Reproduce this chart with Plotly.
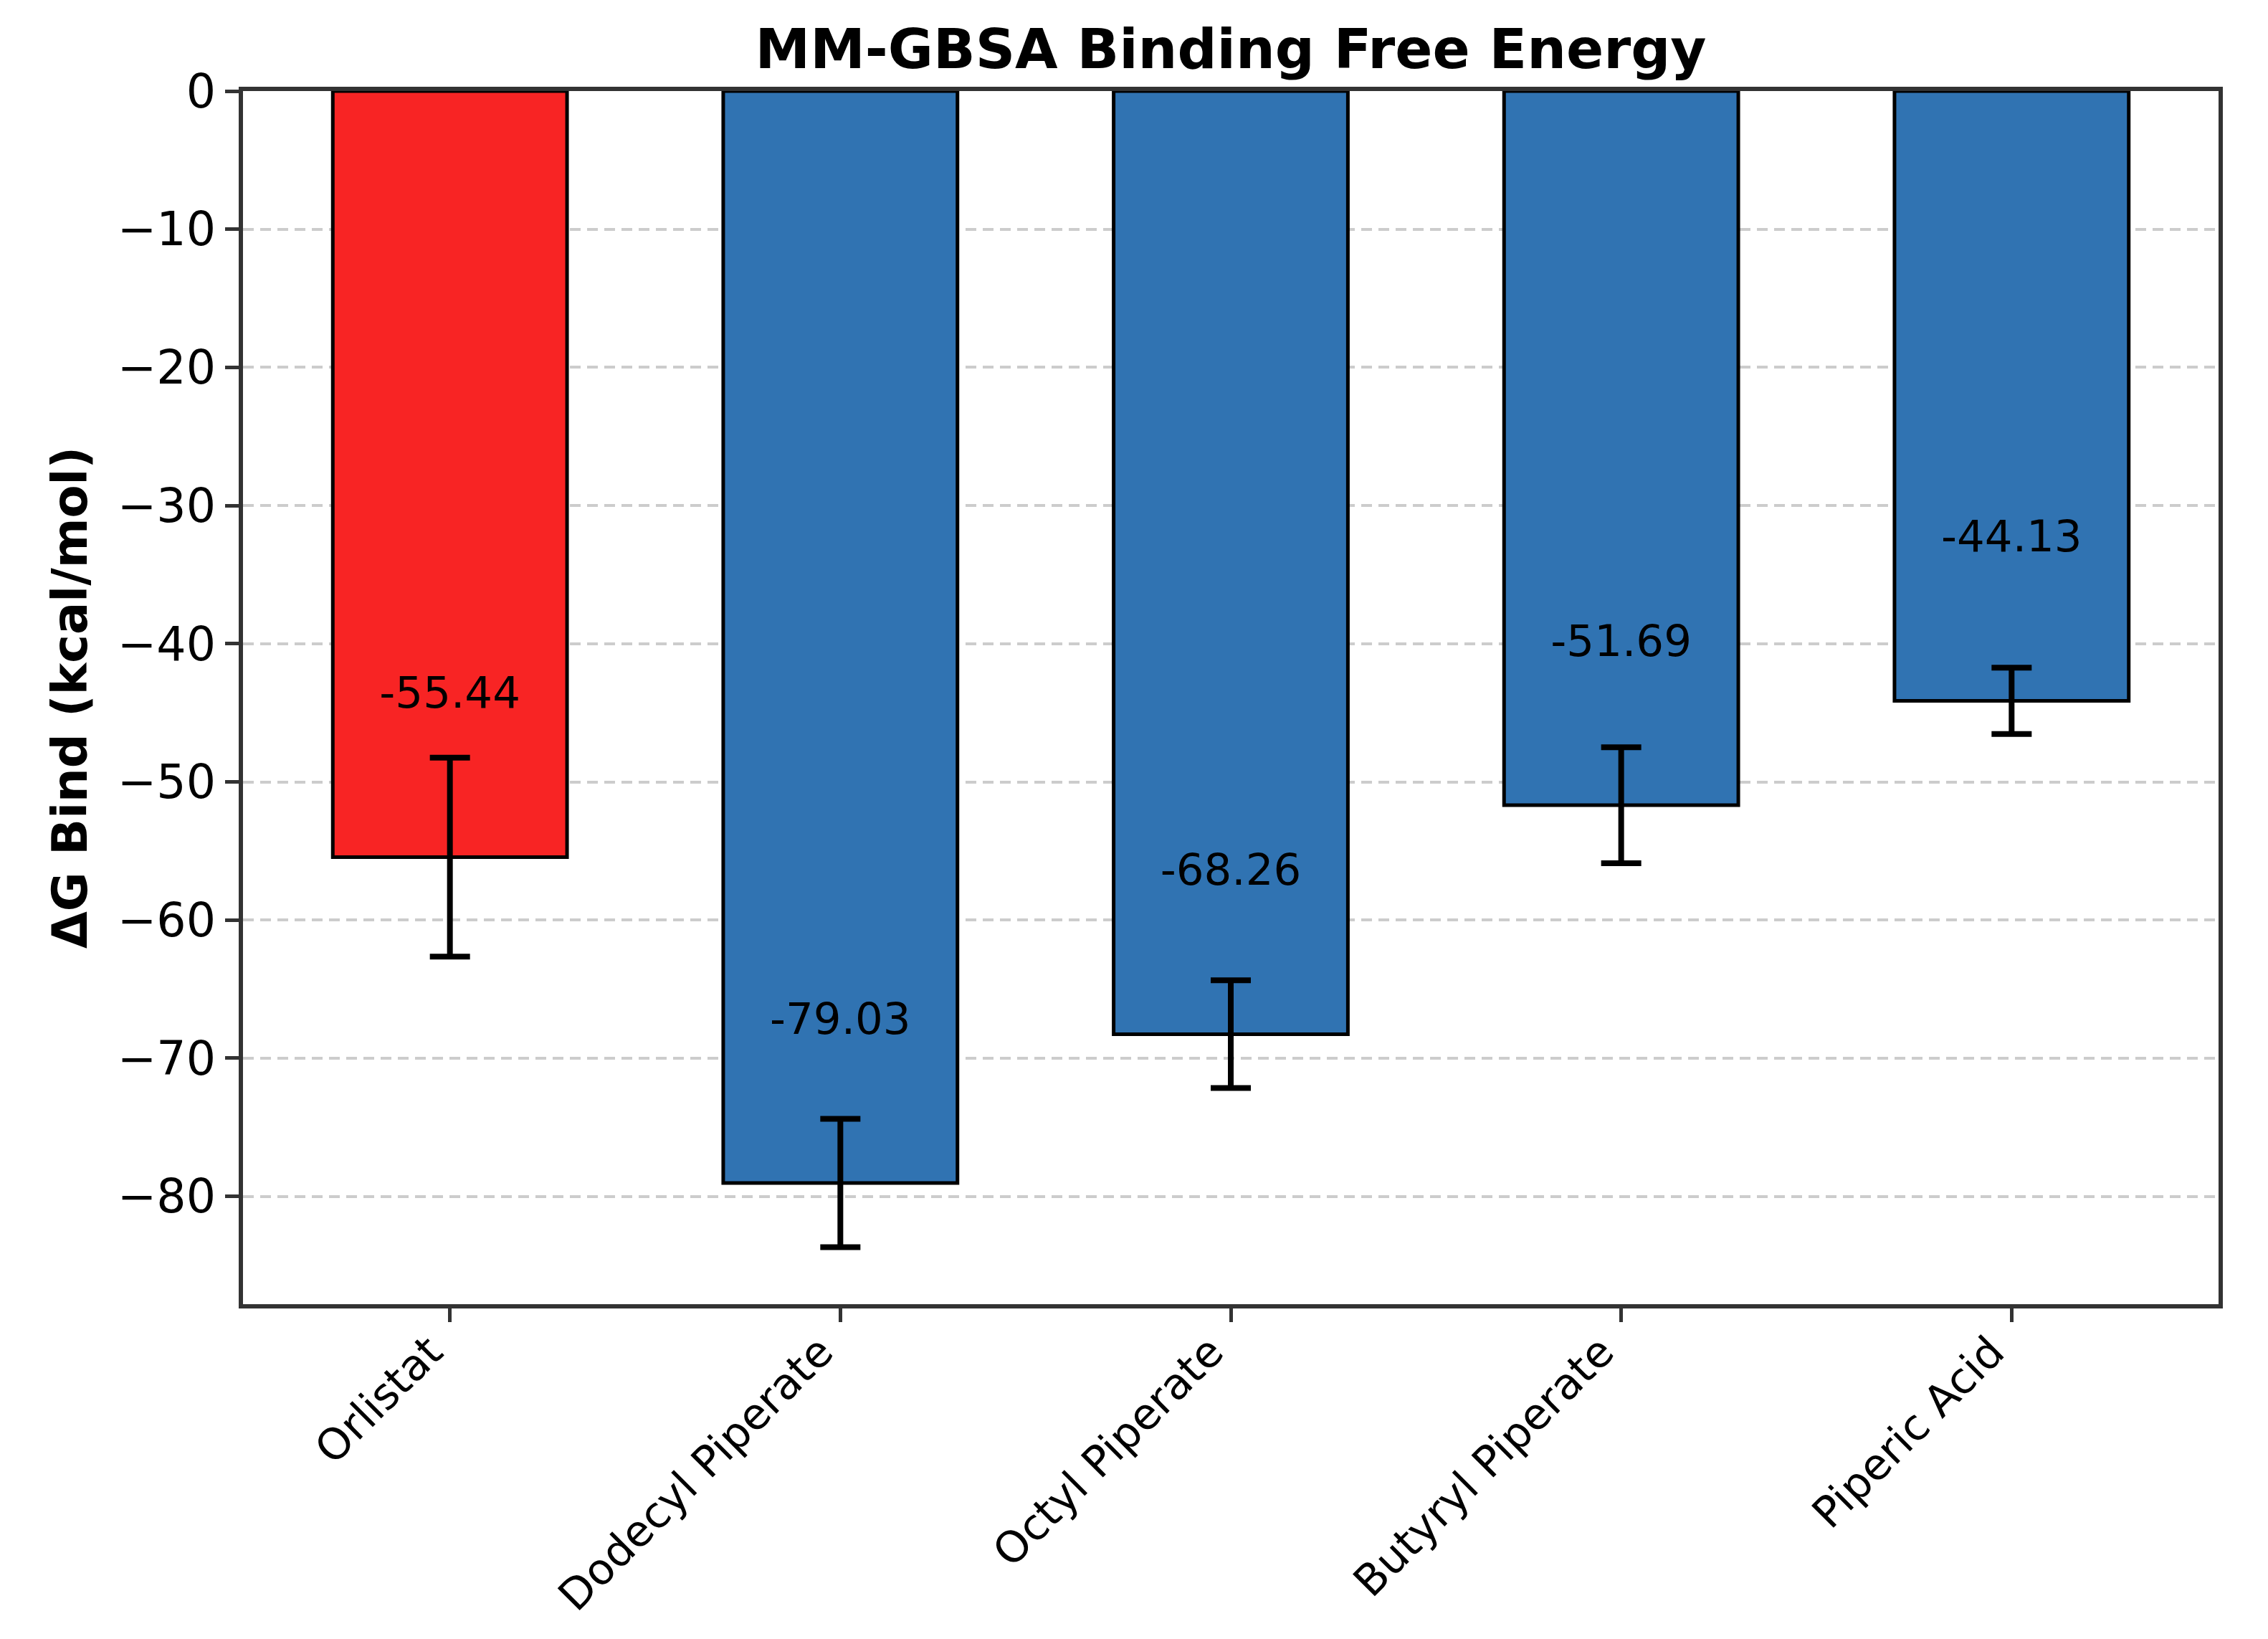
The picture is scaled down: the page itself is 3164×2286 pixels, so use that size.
import plotly.graph_objects as go

categories = ["Orlistat", "Dodecyl Piperate", "Octyl Piperate", "Butyryl Piperate", "Piperic Acid"]
values = [-55.44, -79.03, -68.26, -51.69, -44.13]
errors = [7.2, 4.65, 3.9, 4.2, 2.4]
bar_colors = ["#F82424", "#3073B2", "#3073B2", "#3073B2", "#3073B2"]
y_tickvals = [0, -10, -20, -30, -40, -50, -60, -70, -80]
y_ticktext = ["0", "−10", "−20", "−30", "−40", "−50", "−60", "−70", "−80"]
label_texts = [f"{v:.2f}" for v in values]

LABEL_OFFSET = 11.6
FONT = "DejaVu Sans"
W, H = 3156, 2278
ML, MR, MT, MB = 331, 69, 119, 467

fig = go.Figure()
fig.add_trace(go.Bar(
    x=list(range(len(categories))),
    y=values,
    width=0.6,
    marker=dict(color=bar_colors, line=dict(color="black", width=5)),
    error_y=dict(type="data", array=errors, visible=True, color="black",
                 thickness=8, width=28),
    showlegend=False,
))
fig.add_trace(go.Scatter(
    x=list(range(len(categories))),
    y=[v + LABEL_OFFSET for v in values],
    mode="text",
    text=label_texts,
    textposition="middle center",
    textfont=dict(family=FONT, size=61, color="black"),
    showlegend=False,
    hoverinfo="skip",
))

fig.update_layout(
    width=W, height=H,
    paper_bgcolor="white", plot_bgcolor="white",
    margin=dict(l=ML, r=MR, t=MT, b=MB),
    font=dict(family=FONT, color="black"),
    title=dict(text="<b>MM-GBSA Binding Free Energy</b>",
               font=dict(family=FONT, size=77, color="black"),
               x=(ML + (W - MR)) / 2 / W, xanchor="center",
               y=1 - 60 / H, yanchor="middle", yref="container"),
)
fig.update_xaxes(
    range=[-0.53, 4.53],
    tickvals=list(range(len(categories))),
    ticktext=categories,
    tickangle=-45,
    tickfont=dict(family=FONT, size=60, color="black"),
    ticklabelshift=-28, ticklabelstandoff=-18,
    ticks="outside", ticklen=19, tickwidth=5, tickcolor="#333333",
    showline=True, linecolor="#333333", linewidth=6, mirror=True,
    showgrid=False, zeroline=False,
)
fig.update_yaxes(
    range=[-87.8, 0],
    tickvals=y_tickvals,
    ticktext=y_ticktext,
    tickfont=dict(family=FONT, size=65, color="black"),
    ticks="outside", ticklen=19, tickwidth=5, tickcolor="#333333",
    showline=True, linecolor="#333333", linewidth=6, mirror=True,
    showgrid=True, gridcolor="#cccccc", gridwidth=4, griddash="15px,9px",
    zeroline=False,
    title=dict(text="<b>ΔG Bind (kcal/mol)</b>", standoff=22,
               font=dict(family=FONT, size=67, color="black")),
)

fig.write_html("out.html")
